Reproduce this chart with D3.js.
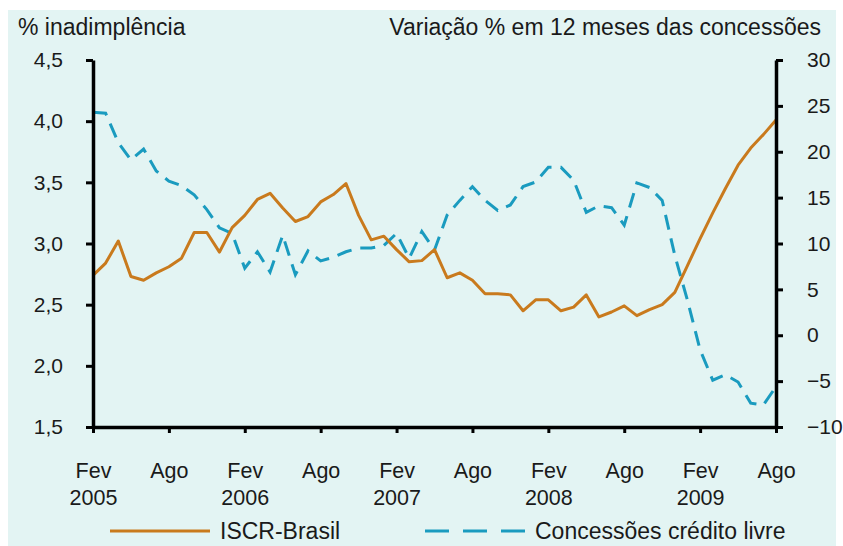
<!DOCTYPE html>
<html>
<head>
<meta charset="utf-8">
<script src="https://cdn.jsdelivr.net/npm/d3@7"></script>
<style>
    body { margin: 0; background: #ffffff; }
    text { font-family: "Liberation Sans", Arial, sans-serif; fill: #1a1a1a; }
</style>
</head>
<body>
<div id="chart"></div>
<script>
// monthly, Fev 2005 .. Ago 2009
var iscr = [2.74, 2.84, 3.02, 2.73, 2.70, 2.76, 2.81, 2.88, 3.09, 3.09,
    2.93, 3.13, 3.23, 3.36, 3.41, 3.29, 3.18, 3.22, 3.34, 3.40,
    3.49, 3.23, 3.03, 3.06, 2.95, 2.85, 2.86, 2.95, 2.72, 2.76,
    2.70, 2.59, 2.59, 2.58, 2.45, 2.54, 2.54, 2.45, 2.48, 2.58,
    2.40, 2.44, 2.49, 2.41, 2.46, 2.50, 2.60, 2.82, 3.04, 3.25,
    3.45, 3.64, 3.78, 3.89, 4.01];

var concessoes = [24.3, 24.2, 21.0, 19.1, 20.3, 17.9, 16.8, 16.3, 15.3, 13.7,
    11.7, 11.1, 7.3, 9.1, 6.9, 10.9, 6.6, 9.2, 8.1, 8.5,
    9.1, 9.5, 9.5, 9.8, 11.1, 8.4, 11.3, 9.3, 13.1, 14.7,
    16.2, 14.7, 13.6, 14.2, 16.2, 16.7, 18.3, 18.3, 16.9, 13.4,
    14.1, 13.9, 12.0, 16.6, 16.1, 14.7, 8.7, 3.8, -1.6, -4.9,
    -4.3, -5.1, -7.4, -7.6, -5.6];

var monthTicks = [0, 6, 12, 18, 24, 30, 36, 42, 48, 54];
var monthLabels = ["Fev", "Ago", "Fev", "Ago", "Fev", "Ago", "Fev", "Ago", "Fev", "Ago"];
var yearLabels = ["2005", "", "2006", "", "2007", "", "2008", "", "2009", ""];
var leftTicks = [1.5, 2.0, 2.5, 3.0, 3.5, 4.0, 4.5];
var rightTicks = [-10, -5, 0, 5, 10, 15, 20, 25, 30];

var seriesNames = ["ISCR-Brasil", "Concessões crédito livre"];
var colors = { "ISCR-Brasil": "#c97a1d", "Concessões crédito livre": "#1a9bbf" };

var W = 843, H = 546;
var margin = { top: 60, right: 67, bottom: 119, left: 93 };
var width = W - margin.left - margin.right,
    height = H - margin.top - margin.bottom;

var svg = d3.select("#chart").append("svg")
    .attr("width", W)
    .attr("height", H);

// panel background
svg.append("rect")
    .attr("x", 8).attr("y", 10)
    .attr("width", 828).attr("height", 536)
    .attr("fill", "#e3f4f3");

var wrapper = svg.append("g")
    .attr("transform", "translate(" + margin.left + "," + margin.top + ")");

var x = d3.scaleLinear().domain([0, iscr.length - 1]).range([0, width]);
var yL = d3.scaleLinear().domain([1.5, 4.5]).range([height, 0]);
var yR = d3.scaleLinear().domain([-10, 30]).range([height, 0]);

// lines
var lineL = d3.line().x(function (d, i) { return x(i); }).y(function (d) { return yL(d); });
var lineR = d3.line().x(function (d, i) { return x(i); }).y(function (d) { return yR(d); });

wrapper.append("path")
    .datum(concessoes)
    .attr("d", lineR)
    .attr("fill", "none")
    .attr("stroke", colors[seriesNames[1]])
    .attr("stroke-width", 3)
    .attr("stroke-dasharray", "15,9");

wrapper.append("path")
    .datum(iscr)
    .attr("d", lineL)
    .attr("fill", "none")
    .attr("stroke", colors[seriesNames[0]])
    .attr("stroke-width", 3)
    .attr("stroke-linejoin", "round");

// axes
function styleAxis(g) {
    g.selectAll("path.domain").attr("stroke", "#000").attr("stroke-width", 3.5);
    g.selectAll(".tick line").attr("stroke", "#000").attr("stroke-width", 3);
    g.selectAll(".tick text").style("font-size", "21px").attr("fill", "#1a1a1a");
}

var gL = wrapper.append("g")
    .call(d3.axisLeft(yL).tickValues(leftTicks).tickSize(7).tickSizeOuter(0).tickPadding(23)
        .tickFormat(function (d) { return d.toFixed(1).replace(".", ","); }));
styleAxis(gL);

var gR = wrapper.append("g")
    .attr("transform", "translate(" + width + ",0)")
    .call(d3.axisRight(yR).tickValues(rightTicks).tickSize(7).tickSizeOuter(0).tickPadding(24));
styleAxis(gR);

var gX = wrapper.append("g")
    .attr("transform", "translate(0," + height + ")")
    .call(d3.axisBottom(x).tickValues(monthTicks).tickSize(6).tickSizeOuter(0).tickFormat(""));
styleAxis(gX);

gX.selectAll(".tick").each(function (d, i) {
    var t = d3.select(this).append("text")
        .attr("text-anchor", "middle")
        .style("font-size", "21.5px")
        .attr("fill", "#1a1a1a");
    t.append("tspan").attr("x", 0).attr("y", 51).text(monthLabels[i]);
    if (yearLabels[i]) t.append("tspan").attr("x", 0).attr("y", 78).text(yearLabels[i]);
});

// axis titles
svg.append("text")
    .attr("x", 18).attr("y", 35)
    .style("font-size", "23px")
    .text("% inadimplência");

svg.append("text")
    .attr("x", 821).attr("y", 35)
    .attr("text-anchor", "end")
    .style("font-size", "23px")
    .text("Variação % em 12 meses das concessões");

// legend
var legend = svg.append("g").attr("transform", "translate(0,531)");
legend.append("line")
    .attr("x1", 110).attr("x2", 210)
    .attr("stroke", colors[seriesNames[0]]).attr("stroke-width", 3);
legend.append("text")
    .attr("x", 220).attr("y", 8)
    .style("font-size", "23px")
    .text(seriesNames[0]);
legend.append("line")
    .attr("x1", 425).attr("x2", 525)
    .attr("stroke", colors[seriesNames[1]]).attr("stroke-width", 3)
    .attr("stroke-dasharray", "24,14");
legend.append("text")
    .attr("x", 535).attr("y", 8)
    .style("font-size", "23px")
    .text(seriesNames[1]);
</script>
</body>
</html>
